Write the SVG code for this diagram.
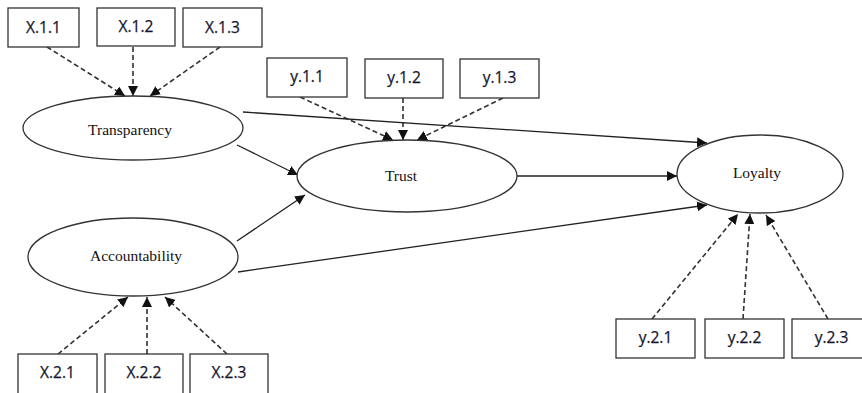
<svg xmlns="http://www.w3.org/2000/svg" width="862" height="393" viewBox="0 0 862 393">
<style>
.box{fill:#fff;stroke:#333;stroke-width:1.3}
.bt{font-family:"Open Sans","Liberation Sans",sans-serif;font-size:15.5px;fill:#15152e;text-anchor:middle;stroke:#15152e;stroke-width:0.25}
.ell{fill:#fff;stroke:#333;stroke-width:1.3}
.et{font-family:"Liberation Serif",serif;font-size:15.5px;fill:#111;text-anchor:middle}
.solid{stroke:#222;stroke-width:1.3;fill:none;marker-end:url(#ah)}
.dash{stroke:#333;stroke-width:1.6;stroke-dasharray:5 3;fill:none;marker-end:url(#ah)}
</style>
<defs>
<marker id="ah" viewBox="0 0 10 10" refX="10" refY="5" markerWidth="10" markerHeight="10" markerUnits="userSpaceOnUse" orient="auto">
<path d="M0,0 L10,5 L0,10 Z" fill="#111"/>
</marker>
</defs>
<rect width="862" height="393" fill="#fff"/>
<g id="connectors">
<line class="dash" x1="47" y1="47" x2="125" y2="96"/>
<line class="dash" x1="133" y1="47" x2="133" y2="96"/>
<line class="dash" x1="220" y1="47" x2="150" y2="96"/>
<line class="dash" x1="300" y1="97" x2="393" y2="140"/>
<line class="dash" x1="403" y1="98" x2="403" y2="140"/>
<line class="dash" x1="503" y1="98" x2="417" y2="140"/>
<line class="dash" x1="58" y1="354" x2="128" y2="297"/>
<line class="dash" x1="147" y1="354" x2="147" y2="297"/>
<line class="dash" x1="227" y1="354" x2="165" y2="297"/>
<line class="dash" x1="652" y1="319" x2="738" y2="214"/>
<line class="dash" x1="743" y1="319" x2="750" y2="214"/>
<line class="dash" x1="828" y1="319" x2="766" y2="215"/>
<line class="solid" x1="243" y1="112" x2="707" y2="143"/>
<line class="solid" x1="237" y1="145" x2="298" y2="175"/>
<line class="solid" x1="237" y1="241" x2="305" y2="195"/>
<line class="solid" x1="517" y1="176" x2="677" y2="176"/>
<line class="solid" x1="238" y1="272" x2="707" y2="205"/>
</g>
<g id="X11"><rect class="box" x="8" y="8" width="71" height="39"/><text class="bt" x="43.5" y="33">X.1.1</text></g>
<g id="X12"><rect class="box" x="97" y="8" width="78" height="38"/><text class="bt" x="136" y="32">X.1.2</text></g>
<g id="X13"><rect class="box" x="183" y="8" width="79" height="39"/><text class="bt" x="222.5" y="33">X.1.3</text></g>
<g id="y11"><rect class="box" x="267" y="58" width="80" height="39"/><text class="bt" x="307" y="82">y.1.1</text></g>
<g id="y12"><rect class="box" x="365" y="59" width="78" height="39"/><text class="bt" x="404" y="83">y.1.2</text></g>
<g id="y13"><rect class="box" x="460" y="59" width="79" height="39"/><text class="bt" x="499.5" y="83">y.1.3</text></g>
<g id="X21"><rect class="box" x="18" y="354" width="79" height="40"/><text class="bt" x="57.5" y="378">X.2.1</text></g>
<g id="X22"><rect class="box" x="105" y="354" width="78" height="40"/><text class="bt" x="144" y="378">X.2.2</text></g>
<g id="X23"><rect class="box" x="190" y="354" width="78" height="40"/><text class="bt" x="229" y="378">X.2.3</text></g>
<g id="y21"><rect class="box" x="616" y="319" width="79" height="39"/><text class="bt" x="655.5" y="343">y.2.1</text></g>
<g id="y22"><rect class="box" x="705" y="319" width="79" height="39"/><text class="bt" x="744.5" y="343">y.2.2</text></g>
<g id="y23"><rect class="box" x="792" y="319" width="79" height="39"/><text class="bt" x="831.5" y="343">y.2.3</text></g>
<g id="Transparency"><ellipse class="ell" cx="133" cy="128" rx="110" ry="32"/><text class="et" x="130" y="135">Transparency</text></g>
<g id="Trust"><ellipse class="ell" cx="407" cy="176" rx="110" ry="36"/><text class="et" x="401" y="181">Trust</text></g>
<g id="Loyalty"><ellipse class="ell" cx="760" cy="174" rx="83" ry="39"/><text class="et" x="757" y="178">Loyalty</text></g>
<g id="Accountability"><ellipse class="ell" cx="133" cy="257" rx="105" ry="39"/><text class="et" x="136" y="261">Accountability</text></g>
</svg>
